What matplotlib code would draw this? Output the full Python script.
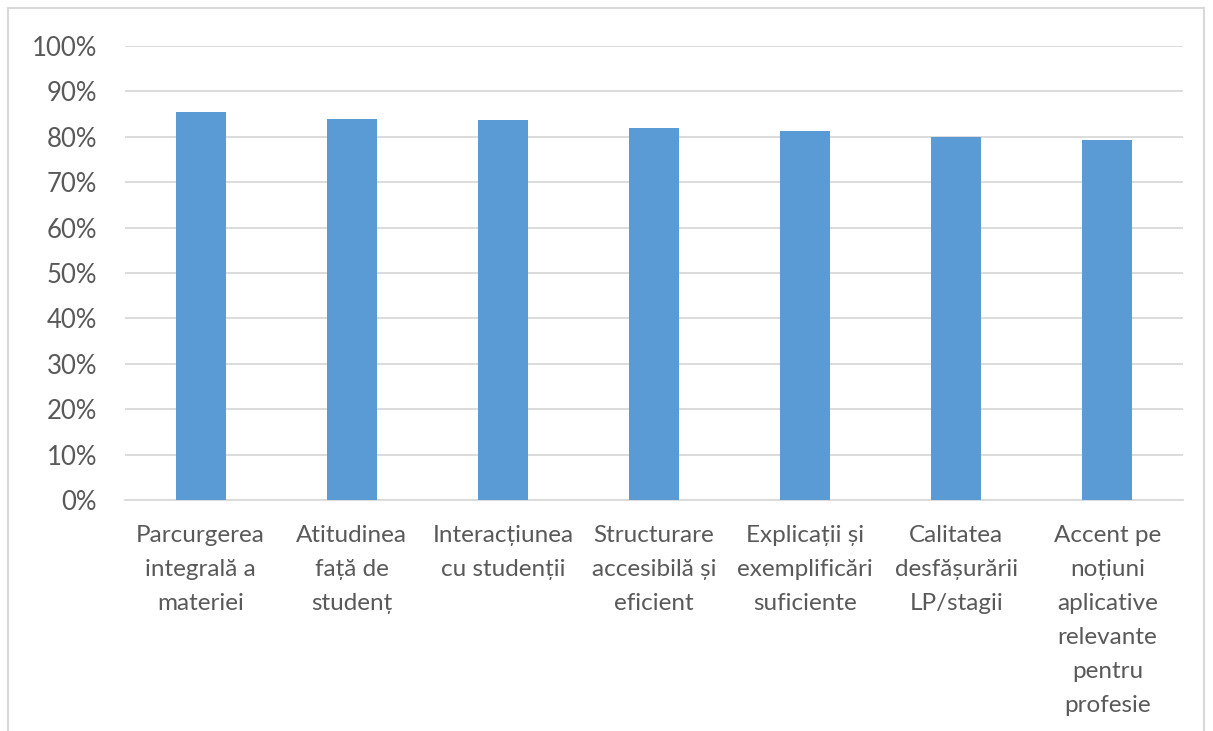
import matplotlib.pyplot as plt
from matplotlib.patches import Rectangle
from matplotlib.ticker import PercentFormatter

plt.rcParams['font.family'] = ['Lato', 'DejaVu Sans']

# date
categorii = [
    'Parcurgerea\nintegrală a\nmateriei',
    'Atitudinea\nfață de\nstudenț',
    'Interacțiunea\ncu studenții',
    'Structurare\naccesibilă și\neficient',
    'Explicații și\nexemplificări\nsuficiente',
    'Calitatea\ndesfășurării\nLP/stagii',
    'Accent pe\nnoțiuni\naplicative\nrelevante\npentru\nprofesie',
]
procente = [85.5, 84.0, 83.7, 82.0, 81.2, 80.0, 79.4]
ticks_y = [0, 10, 20, 30, 40, 50, 60, 70, 80, 90, 100]

gri_text = '#595959'
gri_linie = '#d9d9d9'

fig = plt.figure(figsize=(12.13, 7.31), dpi=100)
ax = fig.add_axes([125 / 1213, 231 / 731, 1058 / 1213, 454 / 731])

x = list(range(len(categorii)))
ax.bar(x, procente, width=0.33, color='#5B9BD5', zorder=3)

ax.set_xlim(-0.5, len(categorii) - 0.5)
ax.set_ylim(0, 100)
ax.set_yticks(ticks_y)
ax.yaxis.set_major_formatter(PercentFormatter(decimals=0))
ax.grid(axis='y', color=gri_linie, linewidth=1.3, zorder=0)
for s in ['top', 'right', 'left']:
    ax.spines[s].set_visible(False)
ax.spines['bottom'].set_color(gri_linie)
ax.spines['bottom'].set_linewidth(1.3)

ax.set_xticks(x)
ax.set_xticklabels(categorii, linespacing=1.76)
ax.tick_params(axis='x', length=0, pad=18, labelsize=17.5, labelcolor=gri_text)
ax.tick_params(axis='y', length=0, pad=20, labelsize=18.5, labelcolor=gri_text)

# chenarul graficului
fig.patches.append(Rectangle((8 / 1213, -0.1), 1196 / 1213, (723 / 731) + 0.1,
                             transform=fig.transFigure, fill=False,
                             edgecolor='#d9d9d9', linewidth=1.5))

fig.savefig('out.png', dpi=100)
